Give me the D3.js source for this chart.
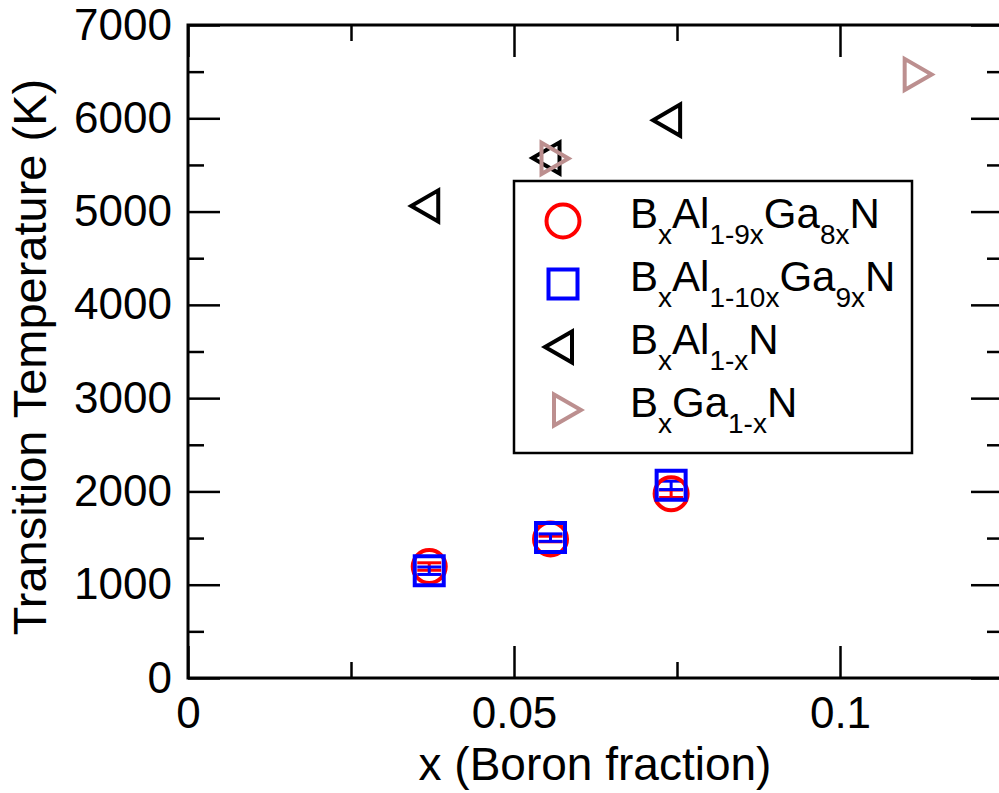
<!DOCTYPE html>
<html lang="en">
<head>
<meta charset="UTF-8">
<title>Transition temperature vs boron fraction</title>
<script src="https://d3js.org/d3.v7.min.js"></script>
<style>
  body { margin: 0; background: #fff; overflow: hidden; }
  svg { display: block; font-family: "Liberation Sans", Arial, Helvetica, sans-serif; }
  .tick text { font-size: 44px; fill: #000; }
  .tick line { stroke: #000; stroke-width: 2.5; }
</style>
</head>
<body>
<div id="chart"></div>
<script>
// data
var xMajor = [0, 0.05, 0.1];
var xMinor = [0.025, 0.075, 0.125];
var yMajor = [0, 1000, 2000, 3000, 4000, 5000, 6000, 7000];
var yMinor = [500, 1500, 2500, 3500, 4500, 5500, 6500];

var xQuat = [0.037, 0.0556, 0.0741];
var yAl9Ga8 = [1195, 1490, 1975];
var errAl9Ga8 = [40, 30, 40];
var yAl10Ga9 = [1150, 1505, 2065];
var errAl10Ga9 = [40, 40, 45];

var xBAlN = [0.037, 0.0556, 0.0741];
var yBAlN = [5060, 5575, 5980];
var xBGaN = [0.0556, 0.1113];
var yBGaN = [5570, 6470];

var W = 999, H = 793;
var margin = {left: 188, top: 25, right: -4, bottom: 115};

var svg = d3.select("#chart").append("svg")
    .attr("width", W)
    .attr("height", H);

var x = d3.scaleLinear().domain([0, 0.125]).range([margin.left, W - margin.right]);
var y = d3.scaleLinear().domain([0, 7000]).range([H - margin.bottom, margin.top]);

var fmtX = function(d) { return d === 0 ? "0" : String(d); };

// major + minor ticks on all four sides, pointing inward
svg.append("g").attr("transform", "translate(0," + y(0) + ")")
    .call(d3.axisBottom(x).tickValues(xMajor).tickSize(-32).tickPadding(19).tickFormat(fmtX));
svg.append("g").attr("transform", "translate(0," + y(0) + ")")
    .call(d3.axisBottom(x).tickValues(xMinor).tickSize(-16).tickFormat(""));
svg.append("g").attr("transform", "translate(0," + y(7000) + ")")
    .call(d3.axisTop(x).tickValues(xMajor).tickSize(-32).tickFormat(""));
svg.append("g").attr("transform", "translate(0," + y(7000) + ")")
    .call(d3.axisTop(x).tickValues(xMinor).tickSize(-16).tickFormat(""));

svg.append("g").attr("transform", "translate(" + x(0) + ",0)")
    .call(d3.axisLeft(y).tickValues(yMajor).tickSize(-32).tickPadding(16).tickFormat(d3.format("d")));
svg.append("g").attr("transform", "translate(" + x(0) + ",0)")
    .call(d3.axisLeft(y).tickValues(yMinor).tickSize(-16).tickFormat(""));
svg.append("g").attr("transform", "translate(" + x(0.125) + ",0)")
    .call(d3.axisRight(y).tickValues(yMajor).tickSize(-32).tickFormat(""));
svg.append("g").attr("transform", "translate(" + x(0.125) + ",0)")
    .call(d3.axisRight(y).tickValues(yMinor).tickSize(-16).tickFormat(""));

svg.selectAll(".domain").remove();

// frame
svg.append("rect")
    .attr("x", x(0)).attr("y", y(7000))
    .attr("width", x(0.125) - x(0)).attr("height", y(0) - y(7000))
    .attr("fill", "none").attr("stroke", "#000").attr("stroke-width", 3);

// axis titles
svg.append("text")
    .attr("x", 595).attr("y", 780)
    .attr("text-anchor", "middle").attr("font-size", 46)
    .text("x (Boron fraction)");

svg.append("text")
    .attr("transform", "translate(46," + 357 + ") rotate(-90)")
    .attr("text-anchor", "middle").attr("font-size", 47)
    .text("Transition Temperature (K)");

// symbols
var circ = d3.symbol().type(d3.symbolCircle).size(Math.PI * 16.5 * 16.5);
var sq = d3.symbol().type(d3.symbolSquare).size(29 * 29);
var tri = d3.symbol().type(d3.symbolTriangle).size(3 * Math.sqrt(3) / 4 * 18 * 18);

function errorBars(xs, ys, es, color) {
  var g = svg.append("g").attr("stroke", color).attr("stroke-width", 3);
  xs.forEach(function(d, i) {
    var cx = x(d), y1 = y(ys[i] - es[i]), y2 = y(ys[i] + es[i]);
    g.append("line").attr("x1", cx).attr("x2", cx).attr("y1", y1).attr("y2", y2);
    g.append("line").attr("x1", cx - 12).attr("x2", cx + 12).attr("y1", y1).attr("y2", y1);
    g.append("line").attr("x1", cx - 12).attr("x2", cx + 12).attr("y1", y2).attr("y2", y2);
  });
}

function markers(xs, ys, gen, color, rot) {
  svg.append("g").selectAll("path")
    .data(xs)
    .join("path")
      .attr("d", gen)
      .attr("transform", function(d, i) { return "translate(" + x(d) + "," + y(ys[i]) + ") rotate(" + rot + ")"; })
      .attr("fill", "none")
      .attr("stroke", color)
      .attr("stroke-width", 4);
}

var red = "#ff0000", blue = "#0000ff", brown = "#bc8f8f";

errorBars(xQuat, yAl9Ga8, errAl9Ga8, red);
errorBars(xQuat, yAl10Ga9, errAl10Ga9, blue);
markers(xQuat, yAl9Ga8, circ, red, 0);
markers(xQuat, yAl10Ga9, sq, blue, 0);
markers(xBAlN, yBAlN, tri, "#000", -90);
markers(xBGaN, yBGaN, tri, brown, 90);

// legend
var legend = svg.append("g");
legend.append("rect")
    .attr("x", 514).attr("y", 181).attr("width", 398).attr("height", 272)
    .attr("fill", "#fff").attr("stroke", "#000").attr("stroke-width", 2.5);

var legendItems = [
  {gen: circ, color: red, rot: 0, parts: [["B", 0], ["x", 1], ["Al", 0], ["1-9x", 1], ["Ga", 0], ["8x", 1], ["N", 0]]},
  {gen: sq, color: blue, rot: 0, parts: [["B", 0], ["x", 1], ["Al", 0], ["1-10x", 1], ["Ga", 0], ["9x", 1], ["N", 0]]},
  {gen: tri, color: "#000", rot: -90, parts: [["B", 0], ["x", 1], ["Al", 0], ["1-x", 1], ["N", 0]]},
  {gen: tri, color: brown, rot: 90, parts: [["B", 0], ["x", 1], ["Ga", 0], ["1-x", 1], ["N", 0]]}
];

legendItems.forEach(function(it, i) {
  var cy = 221 + i * 63;
  legend.append("path")
    .attr("d", it.gen)
    .attr("transform", "translate(563," + cy + ") rotate(" + it.rot + ")")
    .attr("fill", "none").attr("stroke", it.color).attr("stroke-width", 4);
  var t = legend.append("text").attr("x", 630).attr("y", cy + 7).attr("font-size", 42);
  var shifted = 0;
  it.parts.forEach(function(p) {
    var want = p[1] ? 16 : 0;
    t.append("tspan")
      .attr("dy", want - shifted)
      .attr("font-size", p[1] ? 28 : 42)
      .text(p[0]);
    shifted = want;
  });
});
</script>
</body>
</html>
